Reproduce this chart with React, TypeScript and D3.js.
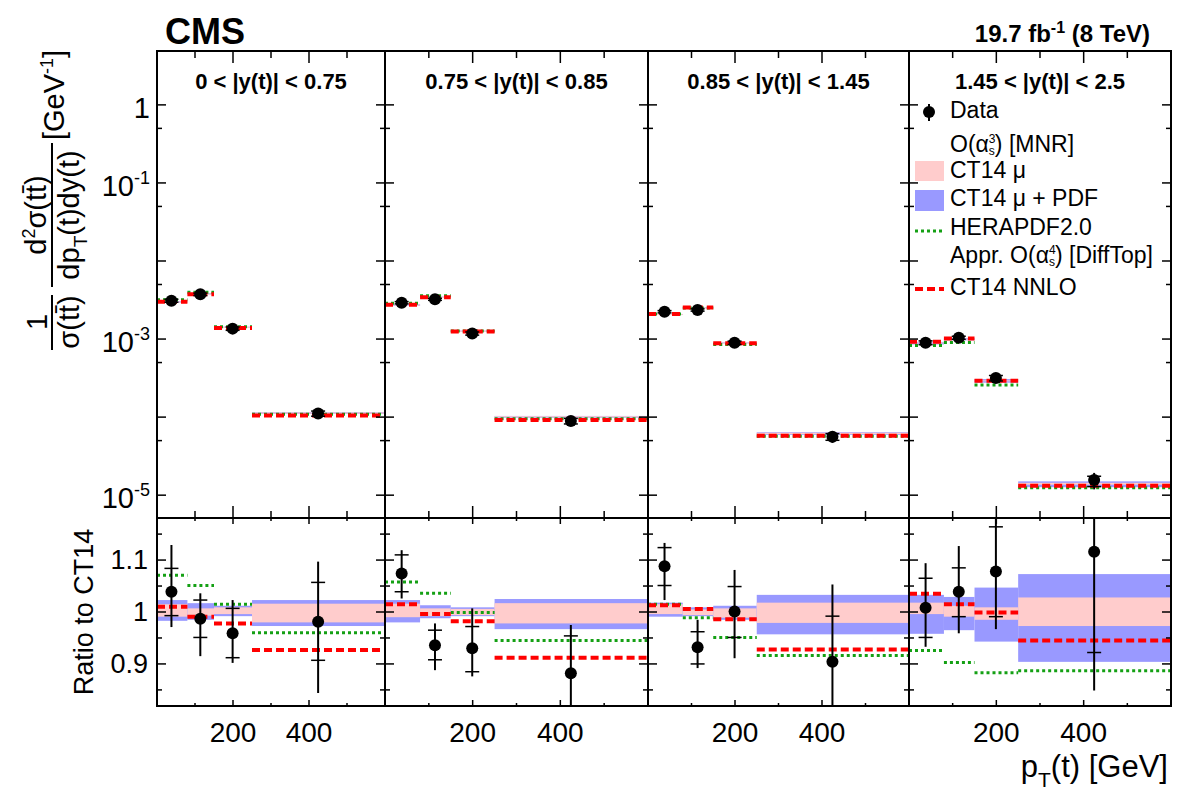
import React, { useRef, useEffect } from "react";
import * as d3 from "d3";

// rapidity bins (one column each)
const rapidityLabels = [
  "0 < |y(t)| < 0.75",
  "0.75 < |y(t)| < 0.85",
  "0.85 < |y(t)| < 1.45",
  "1.45 < |y(t)| < 2.5",
];

// pT bins [GeV] and where the data points sit
const ptEdges = [0, 80, 150, 250, 600];
const ptPoints = [38, 114, 199, 424];

// normalised cross section, data [GeV^-1]
const dataXsec = [
  [3.1e-3, 3.74e-3, 1.36e-3, 1.11e-4],
  [2.92e-3, 3.23e-3, 1.18e-3, 8.9e-5],
  [2.24e-3, 2.36e-3, 8.97e-4, 5.6e-5],
  [8.97e-4, 1.04e-3, 3.16e-4, 1.56e-5],
];

// MNR CT14 central prediction [GeV^-1]
const ct14Xsec = [
  [2.98e-3, 3.79e-3, 1.42e-3, 1.13e-4],
  [2.72e-3, 3.45e-3, 1.27e-3, 1.01e-4],
  [2.06e-3, 2.53e-3, 8.96e-4, 6.2e-5],
  [8.9e-4, 1.0e-3, 2.93e-4, 1.4e-5],
];

// ratio to CT14: data and its uncertainties (stat = caps, total = line)
const dataRatio = [
  [1.039, 0.987, 0.959, 0.981],
  [1.074, 0.936, 0.93, 0.882],
  [1.088, 0.932, 1.001, 0.904],
  [1.008, 1.039, 1.078, 1.116],
];
const statHi = [
  [1.084, 1.023, 1.007, 1.057],
  [1.11, 0.965, 0.972, 0.954],
  [1.124, 0.962, 1.049, 0.992],
  [1.065, 1.085, 1.164, 1.25],
];
const statLo = [
  [0.993, 0.951, 0.912, 0.907],
  [1.039, 0.908, 0.885, 0.81],
  [1.051, 0.9, 0.951, 0.815],
  [0.951, 0.991, 0.991, 0.922],
];
const totHi = [
  [1.129, 1.036, 1.023, 1.097],
  [1.119, 0.978, 1.007, 0.975],
  [1.133, 0.985, 1.081, 1.053],
  [1.094, 1.127, 1.19, 1.38],
];
const totLo = [
  [0.971, 0.915, 0.902, 0.844],
  [1.026, 0.888, 0.876, 0.79],
  [1.023, 0.892, 0.911, 0.755],
  [0.933, 0.959, 0.967, 0.849],
];

// CT14 mu band (pink) and mu + PDF band (blue), as ratio to CT14
const scaleHi = [
  [1.015, 1.007, 1.009, 1.016],
  [1.016, 1.007, 1.006, 1.017],
  [1.015, 1.005, 1.007, 1.018],
  [1.018, 1.012, 1.009, 1.028],
];
const scaleLo = [
  [0.991, 0.993, 0.996, 0.98],
  [0.99, 0.992, 0.994, 0.978],
  [0.996, 0.994, 0.989, 0.979],
  [0.996, 0.991, 0.985, 0.973],
];
const pdfHi = [
  [1.023, 1.017, 1.012, 1.023],
  [1.023, 1.013, 1.009, 1.025],
  [1.018, 1.009, 1.012, 1.033],
  [1.033, 1.029, 1.047, 1.073],
];
const pdfLo = [
  [0.983, 0.985, 0.992, 0.973],
  [0.98, 0.988, 0.992, 0.967],
  [0.991, 0.992, 0.985, 0.957],
  [0.958, 0.965, 0.943, 0.904],
];

// HERAPDF2.0 and approx NNLO (DiffTop), ratio to CT14
const heraRatio = [
  [1.071, 1.051, 1.015, 0.96],
  [1.058, 1.036, 0.999, 0.945],
  [1.015, 0.989, 0.951, 0.916],
  [0.926, 0.903, 0.883, 0.887],
];
const nnloRatio = [
  [1.01, 0.991, 0.978, 0.927],
  [1.015, 0.996, 0.982, 0.912],
  [1.013, 1.006, 0.986, 0.928],
  [1.035, 1.015, 0.999, 0.945],
];

const mainLabelTicks = [1, 1e-1, 1e-3, 1e-5];
const ratioLabelTicks = [0.9, 1, 1.1];
const ptLabelTicks = [200, 400];

const FONT = "'Liberation Sans', Arial, Helvetica, sans-serif";
const RED = "#ff0000";
const GREEN = "#14a014";
const PINK = "#ffcccc";
const BLUE = "#9999ff";

const App = () => {
  const svgRef = useRef<SVGSVGElement>(null);

  useEffect(() => {
    const svg = d3.select(svgRef.current);
    svg.selectAll("*").remove();

    const width = 1182;
    const height = 798;
    const panelEdges = [157, 385, 648, 909, 1171];
    const top = 51;
    const split = 518;
    const bottom = 706;

    const yMain = d3.scaleLog().domain([5.1e-6, 4.9]).range([split, top]);
    const yRatio = d3.scaleLinear().domain([0.819, 1.181]).range([bottom, split]);

    svg.append("rect").attr("width", width).attr("height", height).attr("fill", "white");
    const defs = svg.append("defs");

    const addText = (parent, x, y, parts, size, opts: any = {}) => {
      const t = parent
        .append("text")
        .attr("x", x)
        .attr("y", y)
        .attr("font-family", FONT)
        .attr("font-size", size)
        .attr("font-weight", opts.weight || "normal")
        .attr("text-anchor", opts.anchor || "start")
        .attr("fill", "black");
      parts.forEach((p) => {
        const s = t.append("tspan").text(p.text);
        if (p.dy) s.attr("dy", p.dy);
        if (p.dx) s.attr("dx", p.dx);
        if (p.size) s.attr("font-size", p.size);
      });
      return t;
    };

    const hline = (g, x1, x2, y, color, w, dash?) => {
      const l = g
        .append("line")
        .attr("x1", x1)
        .attr("x2", x2)
        .attr("y1", y)
        .attr("y2", y)
        .attr("stroke", color)
        .attr("stroke-width", w);
      if (dash) l.attr("stroke-dasharray", dash);
      return l;
    };

    rapidityLabels.forEach((label, i) => {
      const x = d3
        .scaleLinear()
        .domain([ptEdges[0], ptEdges[ptEdges.length - 1]])
        .range([panelEdges[i], panelEdges[i + 1]]);

      defs
        .append("clipPath")
        .attr("id", `clip-main-${i}`)
        .append("rect")
        .attr("x", x(0))
        .attr("y", top)
        .attr("width", x(600) - x(0))
        .attr("height", split - top);
      defs
        .append("clipPath")
        .attr("id", `clip-ratio-${i}`)
        .append("rect")
        .attr("x", x(0))
        .attr("y", split)
        .attr("width", x(600) - x(0))
        .attr("height", bottom - split);

      const gMain = svg.append("g").attr("clip-path", `url(#clip-main-${i})`);
      const gRatio = svg.append("g").attr("clip-path", `url(#clip-ratio-${i})`);

      const drawTheory = (g, y, norm) => {
        ptEdges.slice(0, -1).forEach((lo, j) => {
          const hi = ptEdges[j + 1];
          const k = norm(j);
          g.append("rect")
            .attr("x", x(lo))
            .attr("width", x(hi) - x(lo))
            .attr("y", y(k * pdfHi[i][j]))
            .attr("height", Math.max(1, y(k * pdfLo[i][j]) - y(k * pdfHi[i][j])))
            .attr("fill", BLUE);
          g.append("rect")
            .attr("x", x(lo))
            .attr("width", x(hi) - x(lo))
            .attr("y", y(k * scaleHi[i][j]))
            .attr("height", Math.max(1, y(k * scaleLo[i][j]) - y(k * scaleHi[i][j])))
            .attr("fill", PINK);
        });
        ptEdges.slice(0, -1).forEach((lo, j) => {
          hline(g, x(lo), x(ptEdges[j + 1]), y(norm(j) * heraRatio[i][j]), GREEN, 3, "3 3");
        });
        ptEdges.slice(0, -1).forEach((lo, j) => {
          hline(g, x(lo), x(ptEdges[j + 1]), y(norm(j) * nnloRatio[i][j]), RED, 4, "8 4");
        });
      };

      const drawData = (g, y, value, scale) => {
        ptPoints.forEach((pt, j) => {
          const k = scale(j);
          const cx = x(pt);
          g.append("line")
            .attr("x1", cx)
            .attr("x2", cx)
            .attr("y1", y(k * totHi[i][j]))
            .attr("y2", y(k * totLo[i][j]))
            .attr("stroke", "black")
            .attr("stroke-width", 2);
          [statHi[i][j], statLo[i][j]].forEach((s) => {
            hline(g, cx - 7, cx + 7, y(k * s), "black", 1.5);
          });
          g.append("circle")
            .attr("cx", cx)
            .attr("cy", y(value(j)))
            .attr("r", 6)
            .attr("fill", "black");
        });
      };

      drawTheory(gMain, yMain, (j) => ct14Xsec[i][j]);
      drawData(
        gMain,
        yMain,
        (j) => dataXsec[i][j],
        (j) => dataXsec[i][j] / dataRatio[i][j]
      );
      drawTheory(gRatio, yRatio, () => 1);
      drawData(gRatio, yRatio, (j) => dataRatio[i][j], () => 1);

      // frame and ticks
      const frame = svg.append("g").attr("stroke", "black").attr("fill", "none");
      [
        [top, split],
        [split, bottom],
      ].forEach(([y0, y1]) => {
        frame
          .append("rect")
          .attr("x", x(0))
          .attr("y", y0)
          .attr("width", x(600) - x(0))
          .attr("height", y1 - y0)
          .attr("stroke-width", 2);
      });

      const ptTicks = d3.range(100, 600, 100);
      ptTicks.forEach((t) => {
        const major = ptLabelTicks.includes(t);
        const lm = major ? 12 : 7;
        const lr = major ? 6 : 3;
        [
          [top, lm],
          [split, -lm],
          [split, lr],
          [bottom, -lr],
        ].forEach(([y0, len]) => {
          frame
            .append("line")
            .attr("x1", x(t))
            .attr("x2", x(t))
            .attr("y1", y0)
            .attr("y2", y0 + len)
            .attr("stroke-width", 1.5);
        });
      });

      const logTicks = d3.range(-6, 1).flatMap((e) => [
        { v: Math.pow(10, e), major: true },
        { v: 5 * Math.pow(10, e), major: false },
      ]);
      logTicks
        .filter((t) => t.v >= 5.1e-6 && t.v <= 4.9)
        .forEach((t) => {
          const len = t.major ? 9 : 5;
          [
            [x(0), len],
            [x(600), -len],
          ].forEach(([x0, l]) => {
            frame
              .append("line")
              .attr("x1", x0)
              .attr("x2", x0 + l)
              .attr("y1", yMain(t.v))
              .attr("y2", yMain(t.v))
              .attr("stroke-width", 1.5);
          });
        });

      d3.range(0.85, 1.16, 0.05).forEach((v) => {
        const major = ratioLabelTicks.some((r) => Math.abs(r - v) < 1e-6);
        const len = major ? 9 : 5;
        [
          [x(0), len],
          [x(600), -len],
        ].forEach(([x0, l]) => {
          frame
            .append("line")
            .attr("x1", x0)
            .attr("x2", x0 + l)
            .attr("y1", yRatio(v))
            .attr("y2", yRatio(v))
            .attr("stroke-width", 1.5);
        });
      });

      // x tick labels
      ptLabelTicks.forEach((t) => {
        addText(svg, x(t), 742, [{ text: String(t) }], 28, { anchor: "middle" });
      });

      // rapidity label
      addText(svg, (x(0) + x(600)) / 2, 89, [{ text: label }], 22, {
        anchor: "middle",
        weight: "bold",
      });

      // y tick labels on the first panel
      if (i === 0) {
        mainLabelTicks.forEach((v) => {
          const e = Math.round(Math.log10(v));
          const parts =
            e === 0
              ? [{ text: "1" }]
              : [{ text: "10" }, { text: String(e), dy: -12, size: 18 }];
          addText(svg, 150, yMain(v) + 13, parts, 29, { anchor: "end" });
        });
        ratioLabelTicks.forEach((v) => {
          addText(svg, 148, yRatio(v) + 9, [{ text: d3.format("")(v) }], 27, {
            anchor: "end",
          });
        });
      }
    });

    // y axis titles
    const rot = svg.append("g").attr("transform", "rotate(-90)");
    addText(rot, -322, 47, [{ text: "1" }], 29, { anchor: "middle" });
    hline(rot, -350, -295, 52, "black", 2);
    addText(rot, -322, 79, [{ text: "\u03c3(tt\u0304)" }], 29, { anchor: "middle" });
    hline(rot, -287, -143, 52, "black", 2);
    addText(
      rot,
      -215,
      46,
      [
        { text: "d" },
        { text: "2", dy: -11, size: 18 },
        { text: "\u03c3(tt\u0304)", dy: 11 },
      ],
      29,
      { anchor: "middle" }
    );
    addText(
      rot,
      -215,
      79,
      [
        { text: "dp" },
        { text: "T", dy: 8, size: 19 },
        { text: "(t)dy(t)", dy: -8 },
      ],
      29,
      { anchor: "middle" }
    );
    addText(
      rot,
      -140,
      64,
      [
        { text: "[GeV" },
        { text: "-1", dy: -11, size: 18 },
        { text: "]", dy: 11 },
      ],
      29
    );
    addText(rot, -612, 93, [{ text: "Ratio to CT14" }], 27, { anchor: "middle" });

    // x axis title
    addText(
      svg,
      1168,
      777,
      [
        { text: "p" },
        { text: "T", dy: 10, size: 21 },
        { text: "(t) [GeV]", dy: -10 },
      ],
      31,
      { anchor: "end" }
    );

    // header
    addText(svg, 165, 44, [{ text: "CMS" }], 36, { weight: "bold" });
    addText(
      svg,
      1150,
      42,
      [
        { text: "19.7 fb" },
        { text: "-1", dy: -9, size: 16 },
        { text: " (8 TeV)", dy: 9 },
      ],
      24,
      { anchor: "end", weight: "bold" }
    );

    // legend
    const lg = svg.append("g");
    const lx = 950;
    lg.append("line")
      .attr("x1", 929)
      .attr("x2", 929)
      .attr("y1", 104)
      .attr("y2", 121)
      .attr("stroke", "black")
      .attr("stroke-width", 2);
    lg.append("circle").attr("cx", 929).attr("cy", 112).attr("r", 6).attr("fill", "black");
    addText(lg, lx, 118, [{ text: "Data" }], 23);
    addText(
      lg,
      lx,
      152,
      [
        { text: "O(\u03b1" },
        { text: "3", dy: -9, size: 12 },
        { text: "s", dx: -6.7, dy: 12, size: 12 },
        { text: ") [MNR]", dy: -3 },
      ],
      23
    );
    lg.append("rect").attr("x", 915).attr("y", 161).attr("width", 29).attr("height", 20).attr("fill", PINK);
    addText(lg, lx, 178, [{ text: "CT14 \u03bc" }], 23);
    lg.append("rect").attr("x", 915).attr("y", 190).attr("width", 29).attr("height", 21).attr("fill", BLUE);
    addText(lg, lx, 206, [{ text: "CT14 \u03bc + PDF" }], 23);
    hline(lg, 915, 944, 231, GREEN, 3, "3 3");
    addText(lg, lx, 235, [{ text: "HERAPDF2.0" }], 23);
    addText(
      lg,
      lx,
      263,
      [
        { text: "Appr. O(\u03b1" },
        { text: "4", dy: -9, size: 12 },
        { text: "s", dx: -6.7, dy: 12, size: 12 },
        { text: ") [DiffTop]", dy: -3 },
      ],
      23
    );
    hline(lg, 915, 944, 289, RED, 4, "8 4");
    addText(lg, lx, 295, [{ text: "CT14 NNLO" }], 23);
  }, []);

  return (
    <svg
      ref={svgRef}
      width="1182"
      height="798"
      style={{ position: "absolute", left: 0, top: 0, display: "block" }}
    />
  );
};

export default App;
